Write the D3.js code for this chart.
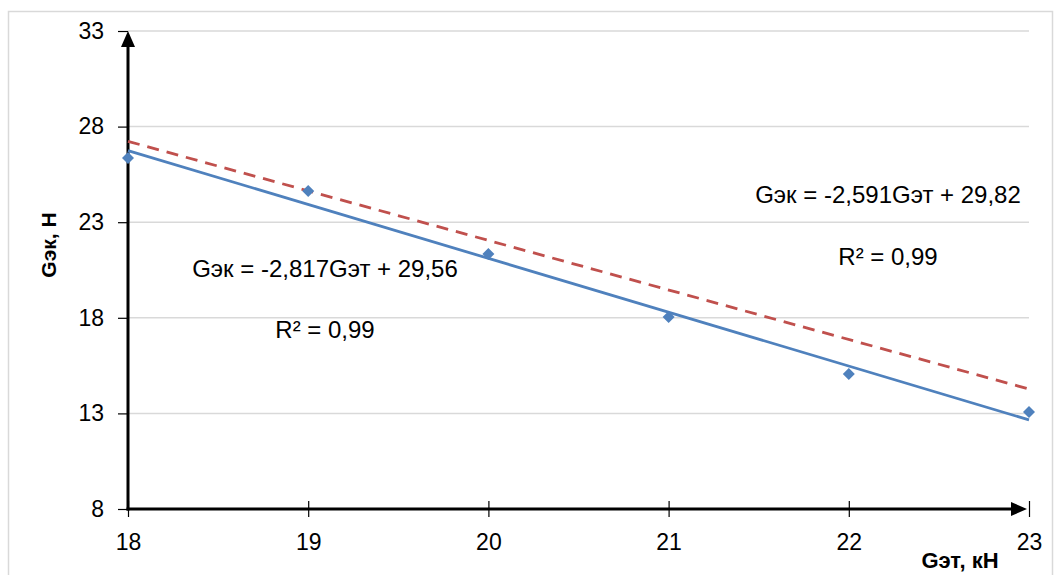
<!DOCTYPE html>
<meta charset="utf-8">
<script src="https://d3js.org/d3.v7.min.js"></script>
<style>
body { margin: 0; background: #fff; }
text { font-family: "Liberation Sans", Arial, sans-serif; fill: #000; }
</style>
<body>
<div id="chart"></div>
<script>
// measured data
var gEt = [18, 19, 20, 21, 22, 23];
var gEk = [26.36, 24.63, 21.34, 18.04, 15.06, 13.07];
var yTicks = [8, 13, 18, 23, 28, 33];

// trend lines (Excel, x = point index 1..6)
var trendSlope = [-2.817, -2.591];
var trendIntercept = [29.56, 29.82];
var trendLabel = ["Gэк = -2,817Gэт + 29,56", "Gэк = -2,591Gэт + 29,82"];
var r2Label = ["R² = 0,99", "R² = 0,99"];

var width = 1054, height = 575;

var svg = d3.select("#chart").append("svg")
  .attr("width", width)
  .attr("height", height);

// outer frame
svg.append("rect")
  .attr("x", 8.5).attr("y", 11.5)
  .attr("width", 1044).attr("height", 600)
  .attr("fill", "none")
  .attr("stroke", "#d9d9d9")
  .attr("stroke-width", 1.5);

var x = d3.scaleLinear().domain([18, 23]).range([128, 1029]);
var y = d3.scaleLinear().domain([8, 33]).range([509, 31]);

// gridlines
svg.append("g")
  .selectAll("line")
  .data(yTicks.slice(1))
  .enter().append("line")
  .attr("x1", x(18)).attr("x2", x(23))
  .attr("y1", function(d) { return y(d); })
  .attr("y2", function(d) { return y(d); })
  .attr("stroke", "#d9d9d9")
  .attr("stroke-width", 1.5);

// y axis
var yAxis = svg.append("g")
  .attr("transform", "translate(" + x(18) + ",0)")
  .call(d3.axisLeft(y).tickValues(yTicks).tickFormat(d3.format("d")).tickSize(10).tickPadding(14));
yAxis.select(".domain").remove();
yAxis.selectAll(".tick line").attr("stroke", "#000").attr("stroke-width", 1.2);
yAxis.selectAll("text").style("font-size", "23px").style("font-family", "Liberation Sans");

// x axis
var xAxis = svg.append("g")
  .attr("transform", "translate(0," + y(8) + ")")
  .call(d3.axisBottom(x).tickValues(gEt).tickFormat(d3.format("d")).tickSize(8).tickPadding(17));
xAxis.select(".domain").remove();
xAxis.selectAll(".tick line").attr("y1", -8).attr("stroke", "#000").attr("stroke-width", 1.2);
xAxis.selectAll("text").style("font-size", "23px").style("font-family", "Liberation Sans");

// axis lines with arrows
svg.append("line")
  .attr("x1", x(18)).attr("x2", x(18))
  .attr("y1", y(8) + 1.5).attr("y2", y(33) + 12)
  .attr("stroke", "#000").attr("stroke-width", 3);
svg.append("path")
  .attr("d", "M" + x(18) + "," + (y(33)) + "L" + (x(18) - 7) + "," + (y(33) + 16) + "L" + (x(18) + 7) + "," + (y(33) + 16) + "Z")
  .attr("fill", "#000");
svg.append("line")
  .attr("x1", x(18) - 1.5).attr("x2", x(23) - 12)
  .attr("y1", y(8)).attr("y2", y(8))
  .attr("stroke", "#000").attr("stroke-width", 3);
svg.append("path")
  .attr("d", "M" + (x(23) - 2) + "," + y(8) + "L" + (x(23) - 18) + "," + (y(8) - 7) + "L" + (x(23) - 18) + "," + (y(8) + 7) + "Z")
  .attr("fill", "#000");

// trend lines
var trendColor = ["#4f81bd", "#c0504d"];
var trendDash = [null, "12,8"];
trendSlope.forEach(function(s, i) {
  svg.append("line")
    .attr("x1", x(18)).attr("x2", x(23))
    .attr("y1", y(s * 1 + trendIntercept[i]))
    .attr("y2", y(s * 6 + trendIntercept[i]))
    .attr("stroke", trendColor[i])
    .attr("stroke-width", 2.8)
    .attr("stroke-dasharray", trendDash[i]);
});

// markers
svg.append("g")
  .selectAll("path")
  .data(gEt)
  .enter().append("path")
  .attr("d", "M0,-6L6,0L0,6L-6,0Z")
  .attr("transform", function(d, i) { return "translate(" + x(d) + "," + y(gEk[i]) + ")"; })
  .attr("fill", "#4f81bd");

// trend labels
var labelPos = [[325, 277, 338], [888, 203, 265]];
trendLabel.forEach(function(t, i) {
  svg.append("text")
    .attr("x", labelPos[i][0]).attr("y", labelPos[i][1])
    .attr("text-anchor", "middle")
    .style("font-size", "24px")
    .text(t);
  svg.append("text")
    .attr("x", labelPos[i][0]).attr("y", labelPos[i][2])
    .attr("text-anchor", "middle")
    .style("font-size", "24px")
    .text(r2Label[i]);
});

// axis titles
svg.append("text")
  .attr("transform", "translate(56,245) rotate(-90)")
  .attr("text-anchor", "middle")
  .style("font-size", "21px")
  .attr("font-weight", "bold")
  .text("Gэк, Н");
svg.append("text")
  .attr("x", 960).attr("y", 568)
  .attr("text-anchor", "middle")
  .style("font-size", "22px")
  .attr("font-weight", "bold")
  .text("Gэт, кН");
</script>
</body>
